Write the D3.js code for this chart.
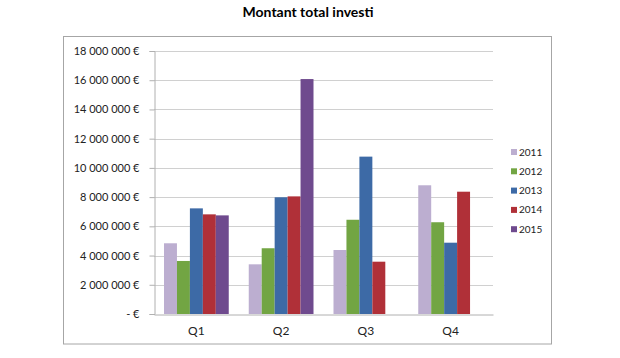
<!DOCTYPE html>
<html>
<head>
<meta charset="utf-8">
<script src="https://cdn.jsdelivr.net/npm/d3@7"></script>
<style>
  html, body { margin: 0; padding: 0; background: #fff; }
  svg { display: block; }
</style>
</head>
<body>
<svg id="chart" width="620" height="358"></svg>
<script>
const title = "Montant total investi";
const categories = ["Q1", "Q2", "Q3", "Q4"];
const seriesNames = ["2011", "2012", "2013", "2014", "2015"];
const values2011 = [4840000, 3400000, 4380000, 8810000];
const values2012 = [3630000, 4500000, 6450000, 6280000];
const values2013 = [7230000, 7990000, 10770000, 4880000];
const values2014 = [6820000, 8050000, 3580000, 8370000];
const values2015 = [6750000, 16080000, null, null];
const yTicks = [0, 2000000, 4000000, 6000000, 8000000, 10000000, 12000000, 14000000, 16000000, 18000000];
const colors = ["#bcaed0", "#72a543", "#3d6aa6", "#b03038", "#6f4a8e"];

const allSeries = [values2011, values2012, values2013, values2014, values2015];

const svg = d3.select("#chart");
const font = "Lato, 'Open Sans', sans-serif";

// Title
svg.append("text")
  .attr("x", 308).attr("y", 17)
  .attr("text-anchor", "middle")
  .attr("font-family", font)
  .attr("font-weight", "bold")
  .attr("font-size", 14)
  .attr("fill", "#000")
  .text(title);

// Outer frame
svg.append("rect")
  .attr("x", 63.5).attr("y", 36.5)
  .attr("width", 488).attr("height", 307.5)
  .attr("fill", "none")
  .attr("stroke", "#a6a6a6")
  .attr("stroke-width", 1);

const plot = { left: 154, right: 493, top: 51, bottom: 314 };

const x0 = d3.scaleBand().domain(categories).range([plot.left, plot.right]).paddingInner(0.236).paddingOuter(0.118);
const x1 = d3.scaleBand().domain(seriesNames).range([0, x0.bandwidth()]).padding(0);
const y = d3.scaleLinear().domain([0, 18000000]).range([plot.bottom, plot.top]);

// Gridlines
svg.append("g").selectAll("line").data(yTicks.filter(d => d > 0)).join("line")
  .attr("x1", plot.left).attr("x2", plot.right)
  .attr("y1", d => Math.round(y(d)) + 0.5).attr("y2", d => Math.round(y(d)) + 0.5)
  .attr("stroke", "#d0d0d0").attr("stroke-width", 1);

// Y axis
const fmt = v => v === 0 ? "- €" : d3.format(",")(v).replace(/,/g, " ") + " €";
const yAxis = svg.append("g")
  .attr("transform", `translate(${plot.left + 0.5},0)`)
  .call(d3.axisLeft(y).tickValues(yTicks).tickFormat(fmt).tickSize(5).tickPadding(10));
yAxis.select(".domain").attr("stroke", "#b0b0b0");
yAxis.selectAll(".tick line").attr("stroke", "#b0b0b0");
yAxis.selectAll(".tick text").attr("font-family", font).attr("font-size", 11).attr("fill", "#222");

// Bars
const groups = svg.append("g").selectAll("g").data(categories).join("g")
  .attr("transform", d => `translate(${x0(d)},0)`);
groups.selectAll("rect")
  .data((c, ci) => seriesNames.map((s, si) => ({ s, si, v: allSeries[si][ci] })).filter(d => d.v != null))
  .join("rect")
  .attr("x", d => x1(d.s))
  .attr("y", d => y(d.v))
  .attr("width", x1.bandwidth())
  .attr("height", d => y(0) - y(d.v))
  .attr("fill", d => colors[d.si]);

// X axis
const xAxis = svg.append("g")
  .attr("transform", `translate(0,${plot.bottom + 0.5})`)
  .call(d3.axisBottom(x0).tickSize(0).tickPadding(12));
xAxis.select(".domain").attr("stroke", "#b0b0b0");
xAxis.selectAll(".tick text").attr("font-family", font).attr("font-size", 12).attr("fill", "#222");

// Legend
const legend = svg.append("g").selectAll("g").data(seriesNames).join("g")
  .attr("transform", (d, i) => `translate(511,${152 + i * 19.3})`);
legend.append("rect")
  .attr("x", 0).attr("y", -3).attr("width", 6).attr("height", 6)
  .attr("fill", (d, i) => colors[i]);
legend.append("text")
  .attr("x", 8).attr("y", 0).attr("dy", "0.35em")
  .attr("font-family", font).attr("font-size", 10).attr("fill", "#222")
  .text(d => d);
</script>
</body>
</html>
